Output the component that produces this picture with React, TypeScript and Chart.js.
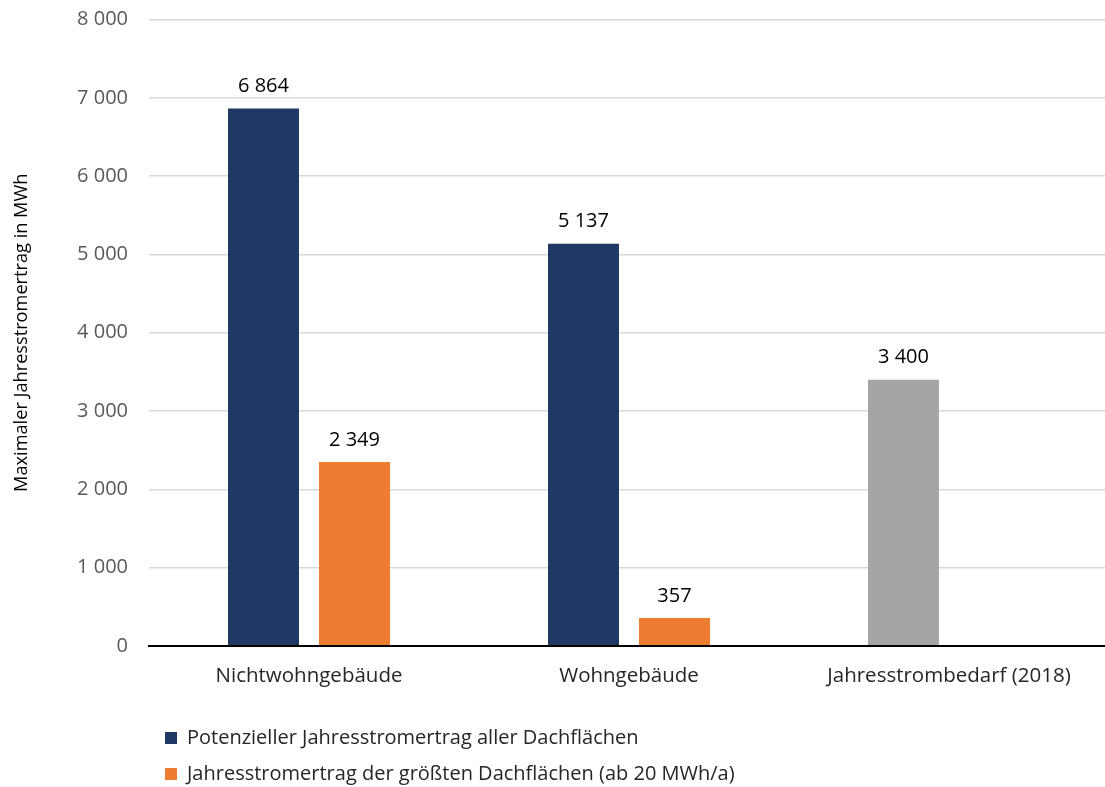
import React, { useEffect, useRef } from "react";
import { Chart, registerables } from "chart.js";

Chart.register(...registerables);

const categories = ["Nichtwohngebäude", "Wohngebäude", "Jahresstrombedarf (2018)"];
const seriesAllLabel = "Potenzieller Jahresstromertrag aller Dachflächen";
const seriesAll = [6864, 5137, 3400];
const seriesLargestLabel = "Jahresstromertrag der größten Dachflächen (ab 20 MWh/a)";
const seriesLargest: (number | null)[] = [2349, 357, null];
const yTitle = "Maximaler Jahresstromertrag in MWh";
const yMax = 8000;
const yStep = 1000;

const NAVY = "#203864";
const ORANGE = "#ED7D31";
const GRAY = "#A5A5A5";
const FONT = "'Open Sans'";

const fmt = (v: number) => String(v).replace(/\B(?=(\d{3})+(?!\d))/g, " ");

const valueLabels = {
  id: "valueLabels",
  afterDatasetsDraw(chart: any) {
    const ctx = chart.ctx;
    ctx.save();
    ctx.font = `20px ${FONT}`;
    ctx.fillStyle = "#000000";
    ctx.textAlign = "center";
    ctx.textBaseline = "middle";
    chart.data.datasets.forEach((ds: any, di: number) => {
      const meta = chart.getDatasetMeta(di);
      meta.data.forEach((el: any, i: number) => {
        const v = ds.data[i];
        if (v === null || v === undefined) return;
        ctx.fillText(fmt(v), el.x, el.y - 22);
      });
    });
    ctx.restore();
  },
};

export default function App() {
  const ref = useRef<HTMLCanvasElement>(null);
  useEffect(() => {
    if (!ref.current) return;
    const chart = new Chart(ref.current, {
      type: "bar",
      data: {
        labels: categories,
        datasets: [
          {
            label: seriesAllLabel,
            data: seriesAll,
            backgroundColor: (c: any) => (c.dataIndex === 2 ? GRAY : NAVY),
            categoryPercentage: 0.56875,
            barPercentage: 0.78,
          },
          {
            label: seriesLargestLabel,
            data: seriesLargest,
            backgroundColor: ORANGE,
            categoryPercentage: 0.56875,
            barPercentage: 0.78,
          },
        ],
      },
      options: {
        responsive: false,
        animation: false,
        devicePixelRatio: 1,
        layout: { padding: { top: 19.5, left: 0, right: 1, bottom: 6 } },
        plugins: {
          tooltip: { enabled: false },
          legend: {
            position: "bottom",
            align: "start",
            fullSize: false,
            labels: {
              boxWidth: 12,
              boxHeight: 12,
              padding: 16,
              color: "#262626",
              font: { family: FONT, size: 20 },
            },
          },
        },
        scales: {
          x: {
            grid: { display: false },
            border: { display: true, color: "#000000", width: 2 },
            ticks: { color: "#262626", padding: 10, font: { family: FONT, size: 20.5 } },
            afterFit: (s: any) => {
              s.height = 66;
            },
          },
          y: {
            min: 0,
            max: yMax,
            border: { display: false },
            grid: {
              drawTicks: false,
              color: (c: any) => (c.tick && c.tick.value === 0 ? "#000000" : "#D9D9D9"),
              lineWidth: (c: any) => (c.tick && c.tick.value === 0 ? 2 : 1.5),
            },
            ticks: {
              stepSize: yStep,
              padding: 21,
              color: "#595959",
              font: { family: FONT, size: 20 },
              callback: (v: any) => fmt(Number(v)),
            },
            title: {
              display: true,
              text: yTitle,
              color: "#000000",
              font: { family: FONT, size: 18.2 },
              padding: { top: 11, bottom: 0 },
            },
            afterFit: (s: any) => {
              s.width = 149;
              s.paddingTop = 0;
              s.paddingBottom = 0;
            },
          },
        },
      },
      plugins: [valueLabels],
    });
    return () => chart.destroy();
  }, []);
  return (
    <div style={{ position: "fixed", left: 0, top: 0, width: 1105, height: 787, overflow: "hidden", background: "#fff" }}>
      <canvas ref={ref} width={1110} height={800} style={{ width: 1110, height: 800, display: "block" }} />
    </div>
  );
}
